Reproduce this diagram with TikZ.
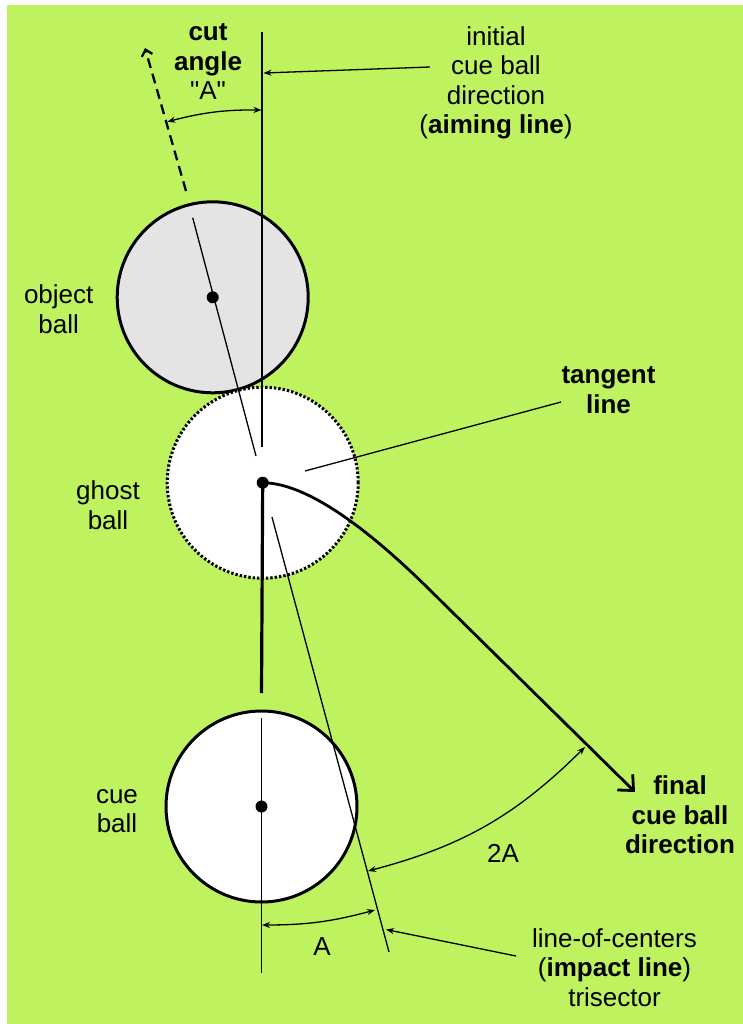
\documentclass[tikz,border=0pt]{standalone}
\usepackage{fontspec}
\setmainfont{Liberation Sans}[Ligatures=TeXOff]
\usepackage{tikz}
\usetikzlibrary{arrows.meta}
\definecolor{felt}{RGB}{190,242,95}
\definecolor{objgray}{RGB}{228,228,228}

\begin{document}
\begin{tikzpicture}[x=0.5pt,y=-0.5pt,
  ball/.style={circle,draw,line width=1.5pt,inner sep=0pt,minimum size=95.5pt},
  centerdot/.style={circle,fill,inner sep=0pt,minimum size=6pt},
  lbl/.style={align=center,inner sep=0pt,font=\fontsize{13}{14.75}\selectfont},
  thinline/.style={line width=0.65pt},
  pointer/.style={thinline,-{Stealth[length=4pt,width=3pt]}},
  angarrow/.style={thinline,{Stealth[length=4pt,width=3pt]}-{Stealth[length=4pt,width=3pt]}}]
%%% table and margins
\useasboundingbox (0,0) rectangle (743,1024);
\fill[felt] (7,5) rectangle (743,1024);
%%% the three balls
\node[ball,fill=objgray] (objball) at (212.7,297.3) {};
\node[ball,fill=white,dash pattern=on 1.2pt off 1pt] (ghostball) at (262.7,482.7) {};
\node[ball,fill=white] (cueball) at (261.5,806.5) {};
%%% aiming line and line of centers
\coordinate (aimtop) at (262,32);
\coordinate (aimend) at (262,447);
\coordinate (cuetop) at (261.5,718);
\coordinate (cuebot) at (261.5,973);
\coordinate (cuestop) at (261.5,693);
\draw[thinline] (aimtop) -- (aimend);
\draw[thinline] (cuetop) -- (cuebot);
\draw[line width=1.6pt] (ghostball.center) -- (cuestop);
\coordinate (loctop) at (192.7,217.7);
\coordinate (locend) at (256,456);
\coordinate (tritop) at (272,517);
\coordinate (tribot) at (389,952);
\draw[thinline] (loctop) -- (locend);
\draw[thinline] (tritop) -- (tribot);
\coordinate (objstart) at (186,191);
\coordinate (objtip) at (145,48);
\draw[line width=1.15pt,dash pattern=on 5pt off 3pt,-{Straight Barb[length=3pt,width=5.5pt]}] (objstart) -- (objtip);
%%% tangent line
\coordinate (tanfoot) at (305,471);
\coordinate (tanhead) at (561,402);
\draw[thinline] (tanfoot) -- (tanhead);
%%% final cue ball path
\coordinate (bendend) at (440,600);
\coordinate (finaltip) at (635,792);
\draw[line width=1.4pt,-{Straight Barb[length=6pt,width=11pt]}] (ghostball.center) .. controls (320,483) and (400,560) .. (bendend) -- (finaltip);
%%% centers
\node[centerdot] (objc) at (objball.center) {};
\node[centerdot] (ghostc) at (ghostball.center) {};
\node[centerdot] (cuec) at (cueball.center) {};
%%% angles
\coordinate (cutleft) at (167.3,121.7);
\coordinate (cutright) at (261.5,110);
\draw[angarrow] (cutleft) to[bend left=7.5] (cutright);
\coordinate (aleft) at (262,925);
\coordinate (aright) at (375,910);
\draw[angarrow] (aleft) to[bend right=7.5] (aright);
\coordinate (twoaleft) at (368,871);
\coordinate (twoaright) at (585,747);
\draw[angarrow] (twoaleft) to[bend right=15] (twoaright);
%%% labels
\node[lbl] (cutlbl) at (208,62) {\textbf{cut}\\\textbf{angle}\\"A"};
\node[lbl] (aimlbl) at (496,83) {initial\\cue ball\\direction\\(\textbf{aiming line})};
\node[lbl] (objlbl) at (58.7,309) {object\\ball};
\node[lbl] (tanlbl) at (608.5,390) {\textbf{tangent}\\\textbf{line}};
\node[lbl] (ghostlbl) at (108,505) {ghost\\ball};
\node[lbl] (cuelbl) at (117,811) {cue\\ball};
\node[lbl] (finallbl) at (680,815) {\textbf{final}\\\textbf{cue ball}\\\textbf{direction}};
\node[lbl] (twoalbl) at (503,853) {2A};
\node[lbl] (albl) at (322,947) {A};
\node[lbl] (loclbl) at (614.5,967.5) {line-of-centers\\(\textbf{impact line})\\trisector};
%%% pointers
\coordinate (aimtail) at (430,67);
\coordinate (aimhit) at (263.5,73);
\draw[pointer] (aimtail) -- (aimhit);
\coordinate (loctail) at (516,956);
\coordinate (lochit) at (386,929.5);
\draw[pointer] (loctail) -- (lochit);
\end{tikzpicture}
\end{document}
